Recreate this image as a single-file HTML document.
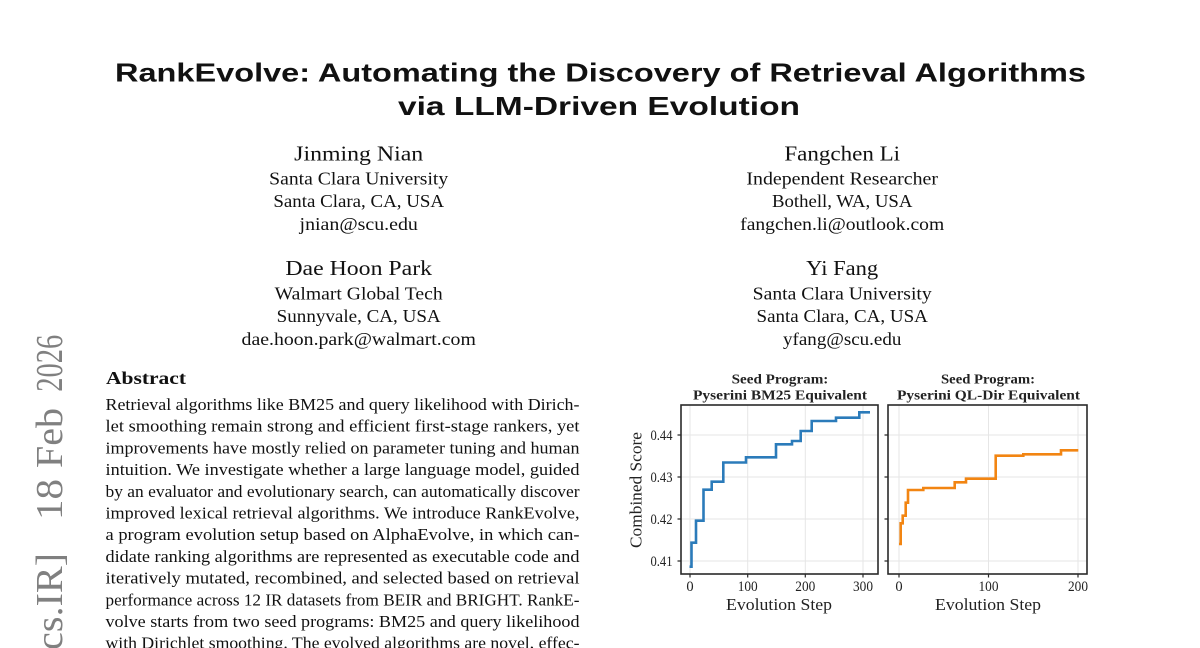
<!DOCTYPE html>
<html><head><meta charset="utf-8"><style>html,body{margin:0;padding:0;background:#fff;}svg{display:block;}</style></head>
<body>
<svg width="1200" height="648" viewBox="0 0 1200 648" xmlns="http://www.w3.org/2000/svg">
<rect width="1200" height="648" fill="#fff"/>

<!-- Title -->
<g font-family="'Liberation Sans', sans-serif" font-weight="bold" font-size="26" fill="#111">
<text x="115" y="81.7" textLength="971" lengthAdjust="spacingAndGlyphs">RankEvolve: Automating the Discovery of Retrieval Algorithms</text>
<text x="398" y="115" textLength="402" lengthAdjust="spacingAndGlyphs">via LLM-Driven Evolution</text>
</g>

<!-- Authors -->
<g font-family="'Liberation Serif', serif" fill="#111" text-anchor="middle">
<text x="358.7" y="160.7" font-size="21" textLength="129" lengthAdjust="spacingAndGlyphs">Jinming Nian</text>
<text x="358.7" y="184.3" font-size="17.5" textLength="179" lengthAdjust="spacingAndGlyphs">Santa Clara University</text>
<text x="358.7" y="207" font-size="17.5" textLength="170.7" lengthAdjust="spacingAndGlyphs">Santa Clara, CA, USA</text>
<text x="358.7" y="230" font-size="17.5" textLength="118.3" lengthAdjust="spacingAndGlyphs">jnian@scu.edu</text>
<text x="358.7" y="275" font-size="21" textLength="146.7" lengthAdjust="spacingAndGlyphs">Dae Hoon Park</text>
<text x="358.7" y="299.3" font-size="17.5" textLength="168" lengthAdjust="spacingAndGlyphs">Walmart Global Tech</text>
<text x="358.7" y="322" font-size="17.5" textLength="164" lengthAdjust="spacingAndGlyphs">Sunnyvale, CA, USA</text>
<text x="358.7" y="345" font-size="17.5" textLength="234.3" lengthAdjust="spacingAndGlyphs">dae.hoon.park@walmart.com</text>

<text x="842.2" y="160.7" font-size="21" textLength="115.7" lengthAdjust="spacingAndGlyphs">Fangchen Li</text>
<text x="842.2" y="184.3" font-size="17.5" textLength="191.6" lengthAdjust="spacingAndGlyphs">Independent Researcher</text>
<text x="842.2" y="207" font-size="17.5" textLength="140.4" lengthAdjust="spacingAndGlyphs">Bothell, WA, USA</text>
<text x="842.2" y="230" font-size="17.5" textLength="204" lengthAdjust="spacingAndGlyphs">fangchen.li@outlook.com</text>
<text x="842.2" y="275" font-size="21" textLength="72" lengthAdjust="spacingAndGlyphs">Yi Fang</text>
<text x="842.2" y="299.3" font-size="17.5" textLength="179" lengthAdjust="spacingAndGlyphs">Santa Clara University</text>
<text x="842.2" y="322" font-size="17.5" textLength="171.3" lengthAdjust="spacingAndGlyphs">Santa Clara, CA, USA</text>
<text x="842.2" y="345" font-size="17.5" textLength="118.3" lengthAdjust="spacingAndGlyphs">yfang@scu.edu</text>
</g>

<!-- arXiv stamp -->
<g font-family="'Liberation Serif', serif" font-size="38" fill="#808080">
<text transform="translate(62,391.7) rotate(-90)" textLength="57" lengthAdjust="spacingAndGlyphs">2026</text>
<text transform="translate(62,468) rotate(-90)" textLength="60" lengthAdjust="spacingAndGlyphs">Feb</text>
<text transform="translate(62,520) rotate(-90)" textLength="41" lengthAdjust="spacingAndGlyphs">18</text>
<text transform="translate(62,650) rotate(-90)" textLength="97" lengthAdjust="spacingAndGlyphs">cs.IR]</text>
</g>

<!-- Abstract -->
<g font-family="'Liberation Serif', serif" fill="#111">
<text x="106" y="384" font-size="17.5" font-weight="bold" textLength="80" lengthAdjust="spacingAndGlyphs">Abstract</text>
<g font-size="16.5">
<text x="105.5" y="410" textLength="474" lengthAdjust="spacingAndGlyphs">Retrieval algorithms like BM25 and query likelihood with Dirich-</text>
<text x="105.5" y="431.7" textLength="474" lengthAdjust="spacingAndGlyphs">let smoothing remain strong and efficient first-stage rankers, yet</text>
<text x="105.5" y="453.4" textLength="474" lengthAdjust="spacingAndGlyphs">improvements have mostly relied on parameter tuning and human</text>
<text x="105.5" y="475.1" textLength="474" lengthAdjust="spacingAndGlyphs">intuition. We investigate whether a large language model, guided</text>
<text x="105.5" y="496.8" textLength="474" lengthAdjust="spacingAndGlyphs">by an evaluator and evolutionary search, can automatically discover</text>
<text x="105.5" y="518.5" textLength="474" lengthAdjust="spacingAndGlyphs">improved lexical retrieval algorithms. We introduce RankEvolve,</text>
<text x="105.5" y="540.2" textLength="474" lengthAdjust="spacingAndGlyphs">a program evolution setup based on AlphaEvolve, in which can-</text>
<text x="105.5" y="561.9" textLength="474" lengthAdjust="spacingAndGlyphs">didate ranking algorithms are represented as executable code and</text>
<text x="105.5" y="583.6" textLength="474" lengthAdjust="spacingAndGlyphs">iteratively mutated, recombined, and selected based on retrieval</text>
<text x="105.5" y="605.3" textLength="474" lengthAdjust="spacingAndGlyphs">performance across 12 IR datasets from BEIR and BRIGHT. RankE-</text>
<text x="105.5" y="627" textLength="474" lengthAdjust="spacingAndGlyphs">volve starts from two seed programs: BM25 and query likelihood</text>
<text x="105.5" y="648.7" textLength="474" lengthAdjust="spacingAndGlyphs">with Dirichlet smoothing. The evolved algorithms are novel, effec-</text>
</g>
</g>

<!-- Chart: grids -->
<g stroke="#e6e6e6" stroke-width="1" fill="none">
<path d="M681,435H878M681,477H878M681,519H878M681,561H878"/>
<path d="M690,405V574M747.7,405V574M805.3,405V574M863,405V574"/>
<path d="M888,435H1087M888,477H1087M888,519H1087M888,561H1087"/>
<path d="M899,405V574M988.5,405V574M1078,405V574"/>
</g>

<!-- series -->
<path d="M689.5,566.7H691.5V542.7H696V520.7H703.5V489.7H711.7V481.7H723.3V462.5H746V457.3H776V444.3H792V441H800.7V431H811.7V421H836V417.7H859.3V412.3H870" fill="none" stroke="#2b7bba" stroke-width="2.6" stroke-linejoin="miter"/>
<path d="M899,544H900.7V523.3H902.7V515.7H905.7V502.7H908V490H923.3V488H954.7V482.3H966V478.7H995.7V455.7H1023.3V454.3H1061V450.3H1078.3" fill="none" stroke="#f28512" stroke-width="2.6" stroke-linejoin="miter"/>

<!-- frames & ticks -->
<g stroke="#2a2a2a" fill="none">
<rect x="681" y="405" width="197" height="169" stroke-width="1.6"/>
<rect x="888" y="405" width="199" height="169" stroke-width="1.6"/>
<path stroke-width="1.2" d="M677.5,435H681M677.5,477H681M677.5,519H681M677.5,561H681"/>
<path stroke-width="1.2" d="M884.5,435H888M884.5,477H888M884.5,519H888M884.5,561H888"/>
<path stroke-width="1.2" d="M690,574V577.5M747.7,574V577.5M805.3,574V577.5M863,574V577.5"/>
<path stroke-width="1.2" d="M899,574V577.5M988.5,574V577.5M1078,574V577.5"/>
</g>

<!-- tick labels -->
<g font-family="'Liberation Serif', serif" font-size="14.5" fill="#222">
<g text-anchor="end">
<text x="672.5" y="440" textLength="22" lengthAdjust="spacingAndGlyphs">0.44</text>
<text x="672.5" y="482" textLength="22" lengthAdjust="spacingAndGlyphs">0.43</text>
<text x="672.5" y="524" textLength="22" lengthAdjust="spacingAndGlyphs">0.42</text>
<text x="672.5" y="566" textLength="22" lengthAdjust="spacingAndGlyphs">0.41</text>
</g>
<g text-anchor="middle">
<text x="690" y="591">0</text>
<text x="747.7" y="591" textLength="20" lengthAdjust="spacingAndGlyphs">100</text>
<text x="805.3" y="591" textLength="20" lengthAdjust="spacingAndGlyphs">200</text>
<text x="863" y="591" textLength="20" lengthAdjust="spacingAndGlyphs">300</text>
<text x="899" y="591">0</text>
<text x="988.5" y="591" textLength="20" lengthAdjust="spacingAndGlyphs">100</text>
<text x="1078" y="591" textLength="20" lengthAdjust="spacingAndGlyphs">200</text>
</g>
</g>

<!-- axis labels -->
<g font-family="'Liberation Serif', serif" font-size="17" fill="#222" text-anchor="middle">
<text x="779" y="610" textLength="106" lengthAdjust="spacingAndGlyphs">Evolution Step</text>
<text x="988" y="610" textLength="106" lengthAdjust="spacingAndGlyphs">Evolution Step</text>
<text transform="translate(641.5,490) rotate(-90)" textLength="116" lengthAdjust="spacingAndGlyphs">Combined Score</text>
</g>

<!-- titles -->
<g font-family="'Liberation Serif', serif" font-size="13.5" font-weight="bold" fill="#222" text-anchor="middle">
<text x="780" y="383.3" textLength="96.7" lengthAdjust="spacingAndGlyphs">Seed Program:</text>
<text x="780" y="399.3" textLength="174" lengthAdjust="spacingAndGlyphs">Pyserini BM25 Equivalent</text>
<text x="988" y="383.3" textLength="94" lengthAdjust="spacingAndGlyphs">Seed Program:</text>
<text x="988.5" y="399.3" textLength="183" lengthAdjust="spacingAndGlyphs">Pyserini QL-Dir Equivalent</text>
</g>
</svg>
</body></html>
